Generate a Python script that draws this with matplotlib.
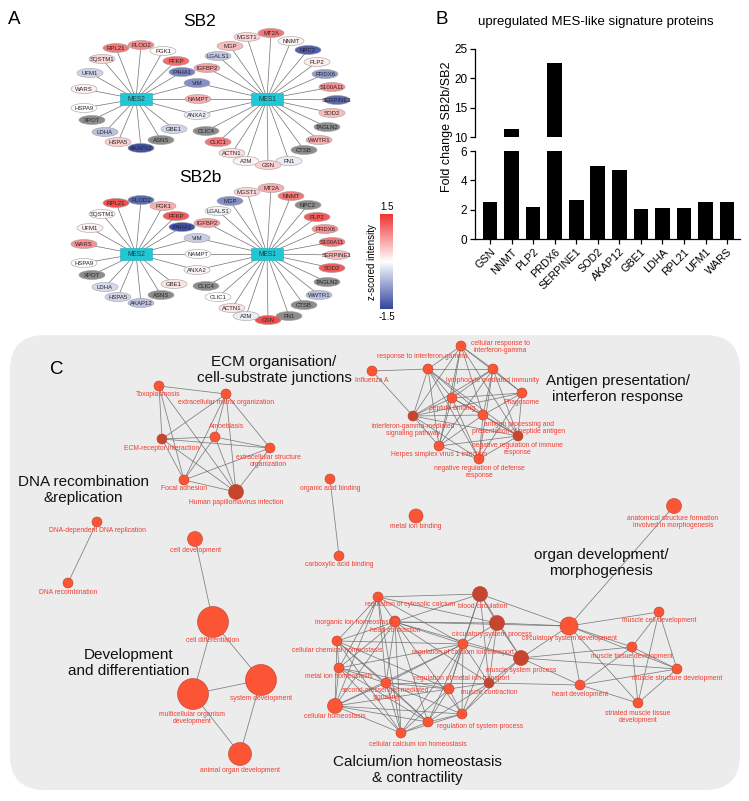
import numpy as np
import matplotlib
matplotlib.use('Agg')
import matplotlib.pyplot as plt
from matplotlib.patches import Ellipse, Rectangle, Circle, FancyBboxPatch
from matplotlib.colors import LinearSegmentedColormap, Normalize
from itertools import combinations

plt.rcParams['font.family'] = ['Liberation Sans', 'DejaVu Sans']

W, H = 749, 801

# ---------------- Panel B data ----------------
b_genes = ['GSN', 'NNMT', 'PLP2', 'PRDX6', 'SERPINE1', 'SOD2', 'AKAP12',
           'GBE1', 'LDHA', 'RPL21', 'UFM1', 'WARS']
b_fold = [2.55, 11.4, 2.2, 22.6, 2.65, 4.95, 4.7, 2.05, 2.1, 2.1, 2.5, 2.5]
b_low_ticks = [0, 2, 4, 6]
b_high_ticks = [10, 15, 20, 25]

# ---------------- Panel A data ----------------
a_proteins = ['RPL21', 'PLOD2', 'PGK1', 'PFKP', 'P4HA1', 'SQSTM1', 'UFM1', 'WARS',
              'HSPA9', 'XPOT', 'LDHA', 'HSPA5', 'AKAP12', 'ASNS', 'GBE1',
              'VIM', 'NAMPT', 'ANXA2',
              'IGFBP2', 'LGALS1', 'MGP', 'MGST1', 'MT2A', 'NNMT', 'NPC2', 'PLP2',
              'PRDX6', 'S100A11', 'SERPINE1', 'SOD2', 'TAGLN2', 'WWTR1', 'CTSB',
              'FN1', 'GSN', 'A2M', 'ACTN1', 'CLIC1', 'CLIC4']
a_hub = ['MES2'] * 15 + ['both'] * 3 + ['MES1'] * 21
sb2_z = [1.0, 0.85, 0.05, 1.1, -1.0, 0.3, -0.35, 0.1,
         0.02, np.nan, -0.5, 0.35, -1.4, np.nan, -0.35,
         -0.9, 0.6, -0.15,
         0.7, -0.45, 0.5, 0.3, 1.0, 0.1, -1.3, 0.15,
         -0.8, 0.8, -1.2, 0.5, np.nan, 0.6, np.nan,
         -0.15, 0.35, 0.1, 0.25, 1.0, np.nan]
sb2b_z = [1.3, -1.2, 0.6, 1.2, -1.4, 0.05, 0.1, 0.8,
          0.02, np.nan, -0.3, -0.35, -0.5, np.nan, 0.2,
          -0.4, 0.0, 0.1,
          0.7, -0.1, -0.9, 0.3, 0.6, 1.0, np.nan, 1.2,
          0.8, 1.0, 0.5, 1.2, np.nan, -0.5, np.nan,
          np.nan, 1.3, -0.15, 0.2, 0.0, np.nan]
z_range = (-1.5, 1.5)

# network layout (pixel positions of the SB2 network; SB2b is the same layout shifted down)
a_pos = {
    'RPL21': (116, 48), 'PLOD2': (141, 45), 'PGK1': (163, 51), 'PFKP': (176, 61),
    'P4HA1': (182, 72), 'SQSTM1': (102, 59), 'UFM1': (90, 73), 'WARS': (84, 89),
    'HSPA9': (84, 108), 'XPOT': (92, 120), 'LDHA': (105, 132), 'HSPA5': (118, 142),
    'AKAP12': (141, 148), 'ASNS': (161, 140), 'GBE1': (174, 129),
    'VIM': (197, 83), 'NAMPT': (198, 99), 'ANXA2': (197, 115),
    'IGFBP2': (207, 68), 'LGALS1': (218, 56), 'MGP': (230, 46), 'MGST1': (247, 37),
    'MT2A': (271, 33), 'NNMT': (291, 41), 'NPC2': (308, 50), 'PLP2': (317, 62),
    'PRDX6': (325, 74), 'S100A11': (332, 87), 'SERPINE1': (337, 100), 'SOD2': (332, 113),
    'TAGLN2': (327, 127), 'WWTR1': (319, 140), 'CTSB': (304, 150), 'FN1': (289, 161),
    'GSN': (268, 165), 'A2M': (246, 161), 'ACTN1': (232, 153), 'CLIC1': (218, 142),
    'CLIC4': (206, 131)}
hub_pos = {'MES2': (136, 99), 'MES1': (267, 99)}
sb2b_shift = 155

# ---------------- Panel C data ----------------
# key, label, x, y, radius, dark, label x, label y
c_nodes = [
    ('tox', 'Toxoplasmosis', 159, 386, 5, 0, 158, 395),
    ('ecm_org', 'extracellular matrix organization', 226, 394, 5, 0, 226, 403),
    ('amoeb', 'Amoebiasis', 215, 437, 5, 0, 227, 427),
    ('ecm_rec', 'ECM-receptor interaction', 162, 439, 5, 1, 162, 448),
    ('ext_str', 'extracellular structure\norganization', 270, 448, 5, 0, 268, 461),
    ('focal', 'Focal adhesion', 184, 480, 5, 0, 184, 489),
    ('hpv', 'Human papillomavirus infection', 236, 492, 7.5, 1, 236, 503),
    ('flu', 'Influenza A', 372, 371, 5, 0, 372, 380),
    ('ifng_resp', 'response to interferon-gamma', 428, 369, 5, 0, 422, 357),
    ('cell_ifng', 'cellular response to\ninterferon-gamma', 461, 346, 5, 0, 500, 347),
    ('lymph', 'lymphocyte mediated immunity', 493, 369, 5, 0, 493, 380),
    ('phago', 'Phagosome', 522, 393, 5, 0, 522, 403),
    ('pept', 'peptide binding', 452, 398, 5, 0, 452, 408),
    ('ifng_sig', 'interferon-gamma-mediated\nsignaling pathway', 413, 416, 5, 1, 413, 430),
    ('antigen', 'antigen processing and\npresentation of peptide antigen', 483, 415, 5, 0, 519, 428),
    ('neg_imm', 'negative regulation of immune\nresponse', 518, 436, 5, 1, 517, 449),
    ('hsv', 'Herpes simplex virus 1 infection', 439, 446, 5, 0, 439, 455),
    ('neg_def', 'negative regulation of defense\nresponse', 479, 459, 5, 0, 479, 472),
    ('oab', 'organic acid binding', 330, 479, 5, 0, 330, 488),
    ('cab', 'carboxylic acid binding', 339, 556, 5, 0, 339, 565),
    ('mib', 'metal ion binding', 416, 516, 7, 0, 416, 527),
    ('asf', 'anatomical structure formation\ninvolved in morphogenesis', 674, 506, 7.5, 0, 673, 522),
    ('dnarep', 'DNA-dependent DNA replication', 97, 522, 5, 0, 97, 531),
    ('dnarec', 'DNA recombination', 68, 583, 5, 0, 68, 592),
    ('celldev', 'cell development', 195, 539, 7.5, 0, 195, 551),
    ('celldiff', 'cell differentiation', 213, 622, 15.5, 0, 213, 641),
    ('sysdev', 'system development', 261, 680, 15.5, 0, 261, 699),
    ('multi', 'multicellular organism\ndevelopment', 193, 694, 15.5, 0, 192, 718),
    ('organ', 'animal organ development', 240, 754, 11.5, 0, 240, 770),
    ('cyto', 'regulation of cytosolic calcium', 378, 597, 5, 0, 410, 605),
    ('blood', 'blood circulation', 480, 594, 7.5, 1, 483, 607),
    ('inorg', 'inorganic ion homeostasis', 395, 621, 5, 0, 354, 622),
    ('heartc', 'heart contraction', 395, 622, 5, 0, 395, 631),
    ('chem', 'cellular chemical homeostasis', 337, 641, 5, 0, 337, 650),
    ('metalh', 'metal ion homeostasis', 339, 668, 5, 0, 339, 677),
    ('cellh', 'cellular homeostasis', 335, 706, 7.5, 0, 335, 717),
    ('second', 'second-messenger-mediated\nsignaling', 386, 683, 5, 0, 386, 694),
    ('rcat', 'regulation of calcium ion transport', 463, 644, 5, 0, 463, 653),
    ('circp', 'circulatory system process', 497, 623, 7.5, 1, 492, 634),
    ('rmit', 'regulation of metal ion transport', 449, 689, 5, 0, 462, 679),
    ('muscc', 'muscle contraction', 489, 683, 5, 1, 489, 692),
    ('muscp', 'muscle system process', 521, 658, 7.5, 1, 521, 670),
    ('rsp', 'regulation of system process', 462, 714, 5, 0, 480, 727),
    ('ccih', 'cellular calcium ion homeostasis', 401, 733, 5, 0, 418, 744),
    ('n44', '', 428, 722, 5, 0, 428, 731),
    ('circd', 'circulatory system development', 569, 626, 9, 0, 569, 638),
    ('mcd', 'muscle cell development', 659, 612, 5, 0, 659, 621),
    ('mtd', 'muscle tissue development', 632, 647, 5, 0, 632, 656),
    ('msd', 'muscle structure development', 677, 669, 5, 0, 677, 679),
    ('heartd', 'heart development', 580, 685, 5, 0, 580, 694),
    ('smtd', 'striated muscle tissue\ndevelopment', 638, 703, 5, 0, 638, 717),
]

ecm_cluster = ['tox', 'ecm_org', 'amoeb', 'ecm_rec', 'ext_str', 'focal', 'hpv']
ecm_missing = [('tox', 'ext_str'), ('tox', 'amoeb')]
ag_cluster = ['ifng_resp', 'cell_ifng', 'lymph', 'phago', 'pept', 'ifng_sig',
              'antigen', 'neg_imm', 'hsv', 'neg_def']
ag_missing = [('ifng_resp', 'phago'), ('phago', 'hsv'), ('cell_ifng', 'neg_def')]
c_edges = [('flu', 'ifng_resp'), ('flu', 'ifng_sig'),
           ('oab', 'cab'), ('dnarep', 'dnarec'), ('asf', 'circd'),
           ('celldev', 'celldiff'), ('celldiff', 'multi'), ('celldiff', 'sysdev'),
           ('multi', 'sysdev'), ('multi', 'organ'), ('sysdev', 'organ'),
           ('cyto', 'heartc'), ('cyto', 'chem'), ('cyto', 'blood'), ('cyto', 'circp'),
           ('cyto', 'rcat'), ('cyto', 'second'), ('cyto', 'ccih'), ('cyto', 'cellh'),
           ('cyto', 'metalh'),
           ('blood', 'circp'), ('blood', 'muscp'), ('blood', 'rcat'), ('blood', 'muscc'),
           ('blood', 'heartc'), ('blood', 'circd'), ('blood', 'rmit'),
           ('heartc', 'chem'), ('heartc', 'metalh'), ('heartc', 'cellh'),
           ('heartc', 'second'), ('heartc', 'rcat'), ('heartc', 'circp'),
           ('heartc', 'rsp'), ('heartc', 'ccih'), ('heartc', 'n44'),
           ('heartc', 'muscc'), ('heartc', 'muscp'), ('heartc', 'circd'),
           ('chem', 'metalh'), ('chem', 'cellh'), ('chem', 'second'), ('chem', 'rcat'),
           ('chem', 'ccih'), ('chem', 'n44'), ('chem', 'rmit'),
           ('metalh', 'cellh'), ('metalh', 'second'), ('metalh', 'rcat'),
           ('metalh', 'ccih'), ('metalh', 'n44'), ('metalh', 'rmit'),
           ('cellh', 'second'), ('cellh', 'ccih'), ('cellh', 'n44'),
           ('cellh', 'rcat'), ('cellh', 'rmit'), ('cellh', 'rsp'),
           ('second', 'rcat'), ('second', 'rmit'), ('second', 'ccih'),
           ('second', 'n44'), ('second', 'rsp'), ('second', 'muscc'),
           ('rcat', 'circp'), ('rcat', 'rmit'), ('rcat', 'muscc'), ('rcat', 'muscp'),
           ('rcat', 'rsp'), ('rcat', 'ccih'), ('rcat', 'n44'),
           ('circp', 'muscp'), ('circp', 'muscc'), ('circp', 'rsp'), ('circp', 'circd'),
           ('rmit', 'muscc'), ('rmit', 'ccih'), ('rmit', 'n44'), ('rmit', 'rsp'),
           ('muscc', 'muscp'), ('muscc', 'rsp'), ('muscc', 'n44'), ('muscc', 'heartd'),
           ('muscp', 'circd'), ('muscp', 'heartd'), ('muscp', 'mtd'), ('muscp', 'msd'),
           ('muscp', 'rsp'), ('rsp', 'n44'), ('rsp', 'ccih'), ('ccih', 'n44'),
           ('circd', 'mcd'), ('circd', 'mtd'), ('circd', 'msd'), ('circd', 'heartd'),
           ('circd', 'smtd'),
           ('mcd', 'mtd'), ('mcd', 'msd'), ('mcd', 'smtd'),
           ('mtd', 'msd'), ('mtd', 'smtd'), ('mtd', 'heartd'),
           ('msd', 'smtd'), ('msd', 'heartd'), ('heartd', 'smtd')]

# cluster headings: text, x, y (pixel)
c_titles = [
    ('ECM organisation/\ncell-substrate junctions', 274, 370),
    ('Antigen presentation/\ninterferon response', 618, 389),
    ('DNA recombination\n&replication', 83, 490),
    ('Development\nand differentiation', 129, 663),
    ('Calcium/ion homeostasis\n& contractility', 417, 770),
    ('organ development/\nmorphogenesis', 601, 563),
]

# ---------------- Figure ----------------
fig = plt.figure(figsize=(W / 100, H / 100), dpi=100)
ax = fig.add_axes([0, 0, 1, 1])
ax.set_xlim(0, W)
ax.set_ylim(H, 0)
ax.axis('off')

cmap = LinearSegmentedColormap.from_list('zs', ['#33459f', '#ffffff', '#f03333'])
norm = Normalize(*z_range)

# panel letters
for letter, (lx, ly) in zip('ABC', [(14, 20), (442, 19), (57, 370)]):
    ax.text(lx, ly, letter, fontsize=13.5, ha='center', va='center')

# ---- Panel A ----
def draw_net(zvals, dy, title, ty):
    ax.text(200, ty, title, fontsize=12.5, ha='center', va='center')
    for name, hub in zip(a_proteins, a_hub):
        x, y = a_pos[name]
        hubs = ['MES2', 'MES1'] if hub == 'both' else [hub]
        for h in hubs:
            hx, hy = hub_pos[h]
            ax.plot([hx, x], [hy + dy, y + dy], color='#707070', lw=0.5, zorder=2)
    for name, z in zip(a_proteins, zvals):
        x, y = a_pos[name]
        fc = '#8c8c8c' if np.isnan(z) else cmap(norm(z))
        ax.add_patch(Ellipse((x, y + dy), 26, 9, fc=fc, ec='#a0a0a0', lw=0.4, zorder=3))
        ax.text(x, y + dy + 0.3, name, fontsize=4.3, ha='center', va='center',
                color='#262626', zorder=4)
    for h, (hx, hy) in hub_pos.items():
        ax.add_patch(Rectangle((hx - 16, hy - 6 + dy), 32, 12, fc='#22c6d4',
                               ec='#1bb0be', lw=0.4, zorder=4))
        ax.text(hx, hy + dy + 0.3, h, fontsize=4.8, ha='center', va='center',
                color='#1f3f44', zorder=5)

draw_net(sb2_z, 0, 'SB2', 21)
draw_net(sb2b_z, sb2b_shift, 'SB2b', 177)

# colour bar
cax = fig.add_axes([380 / W, 1 - 309 / H, 13 / W, 95 / H])
cax.imshow(np.linspace(z_range[1], z_range[0], 256)[:, None], aspect='auto',
           cmap=cmap, norm=norm)
cax.axis('off')
ax.text(387, 207, '1.5', fontsize=7, ha='center', va='center')
ax.text(387, 317, '-1.5', fontsize=7, ha='center', va='center')
ax.text(372, 262, 'z-scored intensity', fontsize=7, rotation=90, ha='center', va='center')

# ---- Panel C ----
ax.add_patch(FancyBboxPatch((10, 335), 730, 455,
                            boxstyle='round,pad=0,rounding_size=35',
                            fc='#ececec', ec='none', zorder=0))
node_map = {n[0]: n for n in c_nodes}
all_edges = list(c_edges)
all_edges += [e for e in combinations(ecm_cluster, 2)
              if e not in ecm_missing and e[::-1] not in ecm_missing]
all_edges += [e for e in combinations(ag_cluster, 2)
              if e not in ag_missing and e[::-1] not in ag_missing]
for a, b in all_edges:
    na, nb = node_map[a], node_map[b]
    ax.plot([na[2], nb[2]], [na[3], nb[3]], color='#6a6a6a', lw=0.55, alpha=0.85,
            zorder=1)
for key, label, x, y, r, dark, lx, ly in c_nodes:
    fc = '#c5452f' if dark else '#fb5535'
    ax.add_patch(Circle((x, y), r, fc=fc, ec='#b8442f', lw=0.4, zorder=3))
for key, label, x, y, r, dark, lx, ly in c_nodes:
    if label:
        ax.text(lx, ly, label, fontsize=4.9, color='#f23b2f', ha='center',
                va='center', linespacing=1.1, zorder=4)
for text, tx, ty in c_titles:
    ax.text(tx, ty, text, fontsize=11, ha='center', va='center',
            linespacing=1.12, color='#111111', zorder=5)

# ---- Panel B ----
axL = fig.add_axes([475 / W, 1 - 239 / H, 265 / W, 88 / H])
axU = fig.add_axes([475 / W, 1 - 137 / H, 265 / W, 88 / H])
xpos = np.arange(len(b_genes))
for a_ in (axL, axU):
    a_.bar(xpos, b_fold, width=0.68, color='black')
    a_.set_xlim(-0.7, 11.6)
    a_.spines['top'].set_visible(False)
    a_.spines['right'].set_visible(False)
    a_.tick_params(direction='out', length=3.5, width=0.9, labelsize=8.5, pad=2)
    for s in a_.spines.values():
        s.set_linewidth(0.9)
    a_.patch.set_alpha(0)
axL.set_ylim(0, 6)
axL.set_yticks(b_low_ticks)
axL.set_xticks(xpos)
axL.set_xticklabels(b_genes, rotation=45, ha='right', rotation_mode='anchor',
                    fontsize=7.8)
axU.set_ylim(10, 25)
axU.set_yticks(b_high_ticks)
axU.spines['bottom'].set_visible(False)
axU.set_xticks([])
fig.text(596 / W, 1 - 22 / H, 'upregulated MES-like signature proteins',
         ha='center', va='center', fontsize=9.5)
fig.text(447 / W, 1 - 127 / H, 'Fold change SB2b/SB2', rotation=90,
         ha='center', va='center', fontsize=9)

fig.savefig('out.png', dpi=100)
